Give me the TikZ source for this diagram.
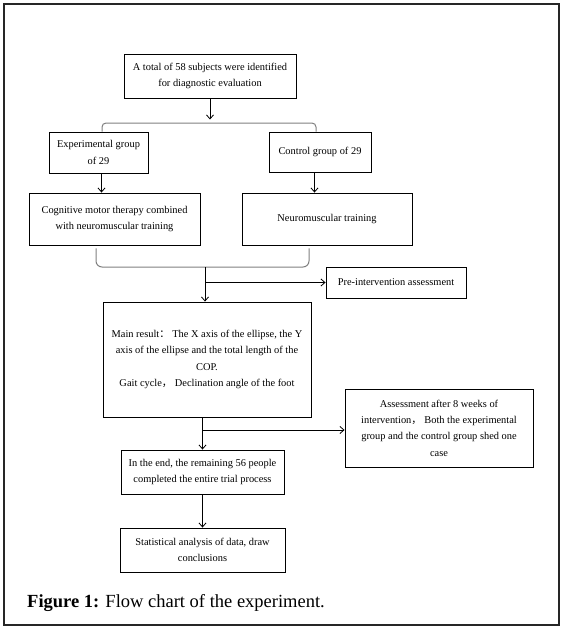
\documentclass[tikz,border=0pt]{standalone}
\usepackage{fontspec}
\setmainfont{Liberation Serif}
\newfontfamily\cjk{Noto Sans CJK SC}
\usetikzlibrary{arrows.meta,calc}
\begin{document}
\begin{tikzpicture}[x=1pt,y=-1pt,
  box/.style={draw=black,line width=0.9pt,align=center,inner sep=0pt,font=\fontsize{10.4}{16.3}\selectfont},
  arr/.style={line width=0.8pt,-{Straight Barb[length=4pt,width=7pt]}},
  brace/.style={draw=black!50,line width=1pt,rounded corners=4pt}]
\useasboundingbox (0,0) rectangle (565,630);
\draw[line width=1.2pt,draw=black!85] (4,4) rectangle (559,625);
\node[box,minimum width=172pt,minimum height=44pt] (top) at (210,76) {A total of 58 subjects were identified\\for diagnostic evaluation};
\node[box,minimum width=99pt,minimum height=41pt] (exp) at (98.5,152.5) {Experimental group\\of 29};
\node[box,minimum width=102pt,minimum height=40pt] (ctrl) at (320,152) {Control group of 29};
\node[box,minimum width=171pt,minimum height=52pt] (cog) at (114.5,219) {Cognitive motor therapy combined\\with neuromuscular training};
\node[box,minimum width=170pt,minimum height=52pt] (neuro) at (327,219) {Neuromuscular training};
\node[box,minimum width=140pt,minimum height=31pt] (pre) at (396,282.5) {Pre-intervention assessment};
\node[box,minimum width=208pt,minimum height=115pt] (main) at (207,359.5) {Main result{\cjk ：} The X axis of the ellipse, the Y\\axis of the ellipse and the total length of the\\COP.\\Gait cycle{\cjk ，} Declination angle of the foot};
\node[box,minimum width=188pt,minimum height=78pt] (assess) at (439,428) {Assessment after 8 weeks of\\intervention{\cjk ，} Both the experimental\\group and the control group shed one\\case};
\node[box,minimum width=163pt,minimum height=44pt] (end) at (202.5,472) {In the end, the remaining 56 people\\completed the entire trial process};
\node[box,minimum width=165pt,minimum height=44pt] (stat) at (202.5,550) {Statistical analysis of data, draw\\conclusions};
\node[anchor=base west,inner sep=0pt,font=\fontsize{18.5}{22}\selectfont] (cap) at (27,607) {\textbf{Figure 1:} Flow chart of the experiment.};
% top split
\coordinate (bt) at (210,119.5);
\coordinate (bj) at (210,123);
\draw[arr] (top.south) -- (bt);
\draw[brace] ([xshift=3.5pt]exp.north) |- (bj) -| ([xshift=-4pt]ctrl.north);
\draw[arr] ([xshift=3pt]exp.south) -- ([xshift=3pt]exp.south |- cog.north);
\draw[arr] ([xshift=-5.5pt]ctrl.south) -- ([xshift=-5.5pt]ctrl.south |- neuro.north);
% bottom merge
\coordinate (bb) at (205,267);
\coordinate (pb) at (205,282.5);
\draw[brace,rounded corners=6pt] ([shift={(-18.5pt,-3pt)}]cog.south) |- (bb) -| ([shift={(-18pt,-3pt)}]neuro.south);
\draw[arr] (bb) -- (bb |- main.north);
\draw[arr] (pb) -- (pre.west);
% after main
\coordinate (ab) at (202.5,430);
\draw[arr] (main.south -| end.north) -- (end.north);
\draw[arr] (ab) -- (ab -| assess.west);
\draw[arr] (end.south) -- (stat.north);
\end{tikzpicture}
\end{document}
